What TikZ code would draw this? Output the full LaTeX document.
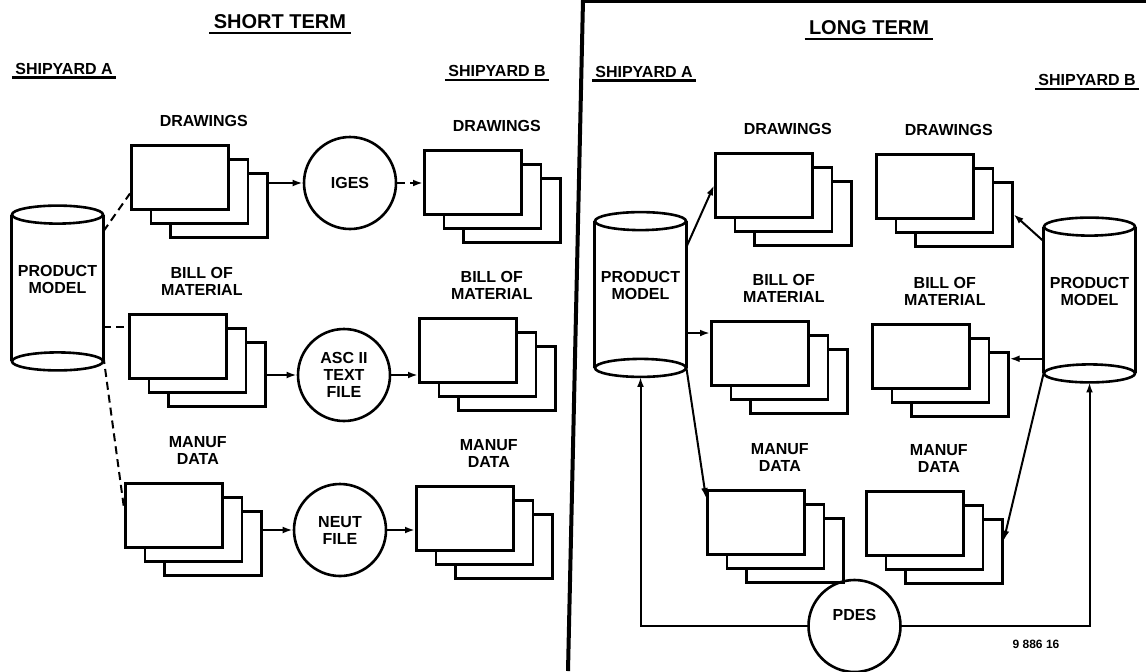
\documentclass[tikz,border=0pt]{standalone}
\usepackage{fontspec}
\setmainfont{Liberation Sans}
\usetikzlibrary{positioning}
\usetikzlibrary{arrows.meta}

\tikzset{
  sheet/.style={draw, fill=white, line width=1.3pt, minimum width=48.5pt, minimum height=32pt, inner sep=0pt},
  lbl/.style={font=\bfseries\fontsize{8}{8.5}\selectfont, align=center, inner sep=1pt},
  fmt/.style={circle, draw, line width=1.3pt, minimum size=46pt, inner sep=0pt, font=\bfseries\fontsize{8}{8.5}\selectfont, align=center},
  pmodel/.style={minimum width=45.5pt, minimum height=73pt, inner sep=0pt, font=\bfseries\fontsize{8}{8.5}\selectfont, align=center, text depth=9pt},
  link/.style={line width=1pt, -{Latex[length=5pt,width=3.4pt]}},
  dlink/.style={line width=1pt, dash pattern=on 4pt off 2.5pt},
  head/.style={font=\bfseries\fontsize{10}{12}\selectfont, inner sep=2pt},
  sub/.style={font=\bfseries\fontsize{8}{10}\selectfont, inner sep=1.5pt},
  uline/.style={line width=1.2pt}
}

% stack of three sheets, front one at top left (#2,#3)
\newcommand{\docstack}[4]{%
  \foreach \k in {2,1,0} {
    \node[sheet, anchor=north west] (#1-\k) at ({#2+19.5*\k},{#3+14*\k}) {};
  }
  \node[lbl, above=7.5pt of #1-0.north, xshift=12pt] (#1-lbl) {#4};
}

% product model cylinder
\newcommand{\prodmodel}[3]{%
  \node[pmodel] (#1) at (#2,#3) {PRODUCT\\MODEL};
  \draw[line width=1.3pt] (#1.north west) -- (#1.south west) (#1.north east) -- (#1.south east);
  \draw[line width=1.3pt] (#1.north) ellipse [x radius=22.75pt, y radius=4.5pt];
  \draw[line width=1.3pt] (#1.south) ellipse [x radius=22.75pt, y radius=4.5pt];
}

\begin{document}
\begin{tikzpicture}[x=0.5pt, y=-0.5pt]
\useasboundingbox (0,0) rectangle (1146,671);

%divider
\draw[line width=2pt] (583,0) -- (568,671);
\draw[line width=1.5pt] (583,1.5) -- (1146,1.5);

%short term
\node[head] (st) at (280,21.5) {SHORT TERM};
\node[sub] (ya1) at (64,68.5) {SHIPYARD A};
\node[sub] (yb1) at (497,71) {SHIPYARD B};
\foreach \n in {st,ya1,yb1} {
\draw[uline] (\n.south west) -- (\n.south east);
}

\prodmodel{pm1}{57.5}{288}

\docstack{sdwgA}{130}{144}{DRAWINGS}
\docstack{sbomA}{128}{313}{BILL OF\\MATERIAL}
\docstack{smfgA}{124}{482}{MANUF\\DATA}
\docstack{sdwgB}{423}{149}{DRAWINGS}
\docstack{sbomB}{418}{317}{BILL OF\\MATERIAL}
\docstack{smfgB}{415}{485}{MANUF\\DATA}

\node[fmt] (iges) at (350,183) {IGES};
\node[fmt] (ascii) at (344,375) {ASC II\\TEXT\\FILE};
\node[fmt] (neut) at (340,530) {NEUT\\FILE};

\draw[dlink] (pm1.51) -- (sdwgA-0.198);
\draw[dlink] (pm1.320) -- (pm1.320 -| sbomA-0.west);
\draw[dlink] (pm1.304) -- (smfgA-0.172);

\draw[link] (sdwgA-2.east |- iges.west) -- (iges.west);
\draw[link, dash pattern=on 4pt off 2.5pt] (iges.east) -- (iges.east -| sdwgB-0.west);
\draw[link] (sbomA-2.east |- ascii.west) -- (ascii.west);
\draw[link] (ascii.east) -- (ascii.east -| sbomB-0.west);
\draw[link] (smfgA-2.east |- neut.west) -- (neut.west);
\draw[link] (neut.east) -- (neut.east -| smfgB-0.west);

%long term
\node[head] (lt) at (869,27.5) {LONG TERM};
\node[sub] (ya2) at (644,71.5) {SHIPYARD A};
\node[sub] (yb2) at (1087,80) {SHIPYARD B};
\foreach \n in {lt,ya2,yb2} {
\draw[uline] (\n.south west) -- (\n.south east);
}

\prodmodel{pm2}{640.5}{294.5}
\prodmodel{pm3}{1089.5}{300}

\docstack{ldwgA}{714}{152}{DRAWINGS}
\docstack{lbomA}{710}{320}{BILL OF\\MATERIAL}
\docstack{lmfgA}{706}{489}{MANUF\\DATA}
\docstack{ldwgB}{875}{153}{DRAWINGS}
\docstack{lbomB}{871}{323}{BILL OF\\MATERIAL}
\docstack{lmfgB}{865}{490}{MANUF\\DATA}

\node[fmt, text depth=11pt] (pdes) at (854.5,626) {PDES};

\draw[link] (pm2.46) -- (ldwgA-0.west);
\draw[link] (pm2.320) -- (pm2.320 -| lbomA-0.west);
\draw[link] (pm2.south east) -- (lmfgA-0.154);
\draw[link] (pm3.128) -- (ldwgB-2.east);
\draw[link] (pm3.232) -- (pm3.232 -| lbomB-2.east);
\draw[link] (pm3.south west) -- (lmfgB-2.12);
\draw[link] (pdes.west) -| ([yshift=-4.5pt]pm2.south);
\draw[link] (pdes.east) -| ([yshift=-4.5pt]pm3.south);

\node[font=\bfseries\fontsize{6}{7}\selectfont] (refno) at (1036,644) {9 886 16};

\end{tikzpicture}
\end{document}
